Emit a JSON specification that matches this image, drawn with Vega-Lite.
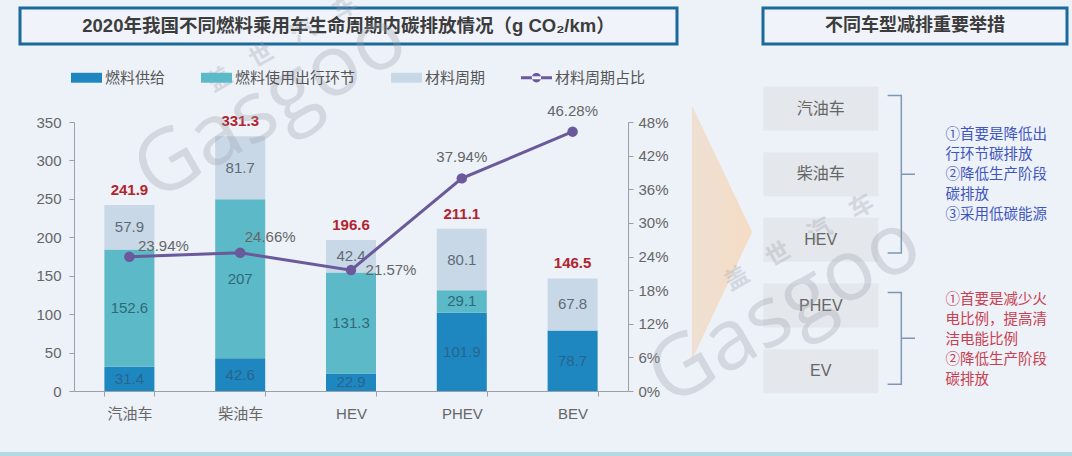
{
  "$schema": "https://vega.github.io/schema/vega-lite/v6.json",
  "width": 1072,
  "height": 456,
  "padding": 0,
  "autosize": {"type": "none"},
  "background": "#edf1f8",
  "config": {
    "font": "Liberation Sans, Noto Sans CJK SC",
    "view": {"stroke": null},
    "axis": {"grid": false, "domainColor": "#9aa0a8", "tickColor": "#9aa0a8", "labelColor": "#666666", "labelFontSize": 15, "title": null}
  },
  "datasets": {
    "segments": [
      {"car": "汽油车", "series": "燃料供给", "rank": 1, "value": 31.4},
      {"car": "汽油车", "series": "燃料使用出行环节", "rank": 2, "value": 152.6},
      {"car": "汽油车", "series": "材料周期", "rank": 3, "value": 57.9},
      {"car": "柴油车", "series": "燃料供给", "rank": 1, "value": 42.6},
      {"car": "柴油车", "series": "燃料使用出行环节", "rank": 2, "value": 207},
      {"car": "柴油车", "series": "材料周期", "rank": 3, "value": 81.7},
      {"car": "HEV", "series": "燃料供给", "rank": 1, "value": 22.9},
      {"car": "HEV", "series": "燃料使用出行环节", "rank": 2, "value": 131.3},
      {"car": "HEV", "series": "材料周期", "rank": 3, "value": 42.4},
      {"car": "PHEV", "series": "燃料供给", "rank": 1, "value": 101.9},
      {"car": "PHEV", "series": "燃料使用出行环节", "rank": 2, "value": 29.1},
      {"car": "PHEV", "series": "材料周期", "rank": 3, "value": 80.1},
      {"car": "BEV", "series": "燃料供给", "rank": 1, "value": 78.7},
      {"car": "BEV", "series": "材料周期", "rank": 3, "value": 67.8}
    ],
    "totals": [
      {"car": "汽油车", "total": 241.9, "share": 0.2394},
      {"car": "柴油车", "total": 331.3, "share": 0.2466},
      {"car": "HEV", "total": 196.6, "share": 0.2157},
      {"car": "PHEV", "total": 211.1, "share": 0.3794},
      {"car": "BEV", "total": 146.5, "share": 0.4628}
    ]
  },
  "resolve": {"scale": {"x": "independent", "y": "independent"}},
  "layer": [
    {
      "data": {"values": [{}]},
      "mark": {"type": "rect", "color": "#b3d9e4"},
      "encoding": {
        "x": {"datum": 0, "type": "quantitative", "scale": {"domain": [0, 1], "range": [0, 1072]}, "axis": null},
        "x2": {"datum": 1},
        "y": {"datum": 0, "type": "quantitative", "scale": {"domain": [0, 1], "range": [452, 456]}, "axis": null},
        "y2": {"datum": 1}
      }
    },
    {
      "data": {"values": [{"title": "2020年我国不同燃料乘用车生命周期内碳排放情况（g CO₂/km）"}]},
      "encoding": {
        "x": {"datum": 0, "type": "quantitative", "scale": {"domain": [0, 1], "range": [20, 677]}, "axis": null},
        "y": {"datum": 0, "type": "quantitative", "scale": {"domain": [0, 1], "range": [8, 44]}, "axis": null}
      },
      "layer": [
        {
          "mark": {"type": "rect", "fill": "#f0f3fa", "stroke": "#1a6a9c", "strokeWidth": 3},
          "encoding": {"x2": {"datum": 1}, "y2": {"datum": 1}}
        },
        {
          "mark": {"type": "text", "fontSize": 18.5, "fontWeight": "bold", "color": "#3c3c3c"},
          "encoding": {
            "x": {"datum": 0.5, "type": "quantitative"},
            "y": {"datum": 0.5, "type": "quantitative"},
            "text": {"field": "title"}
          }
        }
      ]
    },
    {
      "data": {"values": [{"title": "不同车型减排重要举措"}]},
      "encoding": {
        "x": {"datum": 0, "type": "quantitative", "scale": {"domain": [0, 1], "range": [763, 1067]}, "axis": null},
        "y": {"datum": 0, "type": "quantitative", "scale": {"domain": [0, 1], "range": [8, 44]}, "axis": null}
      },
      "layer": [
        {
          "mark": {"type": "rect", "fill": "#f0f3fa", "stroke": "#1a6a9c", "strokeWidth": 3},
          "encoding": {"x2": {"datum": 1}, "y2": {"datum": 1}}
        },
        {
          "mark": {"type": "text", "fontSize": 18, "fontWeight": "bold", "color": "#3c3c3c"},
          "encoding": {
            "x": {"datum": 0.5, "type": "quantitative"},
            "y": {"datum": 0.5, "type": "quantitative"},
            "text": {"field": "title"}
          }
        }
      ]
    },
    {
      "resolve": {"scale": {"y": "independent"}},
      "encoding": {
        "x": {
          "field": "car",
          "type": "nominal",
          "sort": ["汽油车", "柴油车", "HEV", "PHEV", "BEV"],
          "scale": {"range": [74, 628], "paddingInner": 0.55, "paddingOuter": 0.275},
          "axis": {"labelAngle": 0, "tickBand": "extent", "tickSize": 5, "labelPadding": 10, "offset": -65}
        }
      },
      "layer": [
        {
          "data": {"name": "segments"},
          "encoding": {
            "y": {
              "field": "value",
              "type": "quantitative",
              "stack": "zero",
              "scale": {"domain": [0, 350], "nice": false, "range": [391, 122]},
              "axis": {"values": [0, 50, 100, 150, 200, 250, 300, 350], "tickSize": 5, "labelPadding": 8, "offset": -74}
            }
          },
          "layer": [
            {
              "mark": {"type": "bar", "width": 50},
              "encoding": {
                "order": {"field": "rank"},
                "color": {
                  "field": "series",
                  "type": "nominal",
                  "scale": {
                    "domain": ["燃料供给", "燃料使用出行环节", "材料周期", "材料周期占比"],
                    "range": ["#1f87c0", "#5cb9c7", "#c9d8e6", "#6a5a9b"]
                  },
                  "legend": {
                    "orient": "none",
                    "legendX": 71,
                    "legendY": 62,
                    "direction": "horizontal",
                    "columns": 4,
                    "columnPadding": 35,
                    "title": null,
                    "symbolSize": 961,
                    "symbolStrokeWidth": 0,
                    "labelFontSize": 15,
                    "labelColor": "#555555",
                    "labelOffset": 3,
                    "encode": {
                      "symbols": {
                        "update": {
                          "shape": {"signal": "datum.value === '材料周期占比' ? 'M-1,-0.1H1V0.1H-1Z M0.3,0a0.3,0.3 0 1,0 -0.6,0a0.3,0.3 0 1,0 0.6,0Z' : 'M-1,-0.32H1V0.32H-1Z'"},
                          "fill": {"signal": "datum.value === '燃料供给' ? '#1f87c0' : datum.value === '燃料使用出行环节' ? '#5cb9c7' : datum.value === '材料周期' ? '#c9d8e6' : '#6a5a9b'"},
                          "opacity": {"value": 1}
                        }
                      }
                    }
                  }
                }
              }
            },
            {
              "mark": {"type": "text", "fontSize": 15},
              "encoding": {
                "y": {"field": "value", "type": "quantitative", "stack": "zero", "bandPosition": 0.5},
                "order": {"field": "rank"},
                "detail": {"field": "series"},
                "text": {"field": "value", "type": "quantitative"},
                "color": {
                  "condition": [
                    {"test": "datum.series === '燃料供给'", "value": "#27658f"},
                    {"test": "datum.series === '燃料使用出行环节'", "value": "#2f6a78"}
                  ],
                  "value": "#5d6b78"
                }
              }
            },
            {
              "data": {"name": "totals"},
              "mark": {"type": "text", "fontSize": 15, "fontWeight": "bold", "color": "#b2232e", "dy": -15},
              "encoding": {
                "y": {"field": "total", "type": "quantitative"},
                "text": {"field": "total", "type": "quantitative", "format": ".1f"}
              }
            }
          ]
        },
        {
          "data": {"name": "totals"},
          "encoding": {
            "y": {
              "field": "share",
              "type": "quantitative",
              "scale": {"domain": [0, 0.48], "nice": false, "range": [391, 122]},
              "axis": {
                "orient": "right",
                "values": [0, 0.06, 0.12, 0.18, 0.24, 0.3, 0.36, 0.42, 0.48],
                "format": ".0%",
                "tickSize": 5,
                "labelPadding": 5,
                "offset": -444
              }
            },
            "text": {"field": "share", "type": "quantitative", "format": ".2%"}
          },
          "layer": [
            {"mark": {"type": "line", "color": "#6a5a9b", "strokeWidth": 3}},
            {"mark": {"type": "point", "filled": true, "opacity": 1, "color": "#6a5a9b", "size": 110}},
            {
              "transform": [{"filter": "datum.car === '汽油车'"}],
              "mark": {"type": "text", "fontSize": 15, "color": "#666666", "dx": 34, "dy": -11}
            },
            {
              "transform": [{"filter": "datum.car === '柴油车'"}],
              "mark": {"type": "text", "fontSize": 15, "color": "#666666", "dx": 30, "dy": -16}
            },
            {
              "transform": [{"filter": "datum.car === 'HEV'"}],
              "mark": {"type": "text", "fontSize": 15, "color": "#666666", "dx": 40, "dy": 0}
            },
            {
              "transform": [{"filter": "datum.car === 'PHEV' || datum.car === 'BEV'"}],
              "mark": {"type": "text", "fontSize": 15, "color": "#666666", "dy": -21}
            }
          ]
        }
      ]
    },
    {
      "encoding": {
        "x": {"field": "col", "type": "quantitative", "scale": {"domain": [0, 10], "range": [763, 1067], "nice": false, "zero": false}, "axis": null},
        "y": {"field": "row", "type": "quantitative", "scale": {"domain": [0.2, 6.2], "range": [56, 450], "nice": false, "zero": false}, "axis": null}
      },
      "layer": [
        {
          "data": {"values": [{"col": -2.34, "row": 0.95, "row2": 4.83}, {"col": -0.36, "row": 2.88, "row2": 2.88}]},
          "mark": {
            "type": "area",
            "color": {
              "gradient": "linear", "x1": 0, "y1": 0, "x2": 1, "y2": 0,
              "stops": [{"offset": 0, "color": "#efe0d3"}, {"offset": 1, "color": "#f5dcc4"}]
            }
          },
          "encoding": {"y2": {"field": "row2"}}
        },
        {
          "data": {"values": [
            {"name": "汽油车", "col": 1.9, "row": 1},
            {"name": "柴油车", "col": 1.9, "row": 2},
            {"name": "HEV", "col": 1.9, "row": 3},
            {"name": "PHEV", "col": 1.9, "row": 4},
            {"name": "EV", "col": 1.9, "row": 5}
          ]},
          "layer": [
            {"mark": {"type": "rect", "width": 115, "height": 44, "color": "#e4e7eb"}},
            {"mark": {"type": "text", "fontSize": 16, "color": "#666666"}, "encoding": {"text": {"field": "name"}}}
          ]
        },
        {
          "data": {"values": [
            {"group": "a", "step": 1, "col": 4.1, "row": 0.8},
            {"group": "a", "step": 2, "col": 4.55, "row": 0.8},
            {"group": "a", "step": 3, "col": 4.55, "row": 2},
            {"group": "a", "step": 4, "col": 5, "row": 2},
            {"group": "a", "step": 5, "col": 4.55, "row": 2},
            {"group": "a", "step": 6, "col": 4.55, "row": 3.2},
            {"group": "a", "step": 7, "col": 4.1, "row": 3.2},
            {"group": "b", "step": 1, "col": 4.1, "row": 3.8},
            {"group": "b", "step": 2, "col": 4.55, "row": 3.8},
            {"group": "b", "step": 3, "col": 4.55, "row": 4.5},
            {"group": "b", "step": 4, "col": 5, "row": 4.5},
            {"group": "b", "step": 5, "col": 4.55, "row": 4.5},
            {"group": "b", "step": 6, "col": 4.55, "row": 5.2},
            {"group": "b", "step": 7, "col": 4.1, "row": 5.2}
          ]},
          "mark": {"type": "line", "color": "#7e97b5", "strokeWidth": 1.5},
          "encoding": {"detail": {"field": "group"}, "order": {"field": "step"}}
        },
        {
          "data": {"values": [
            {"col": 6, "row": 1.4, "lines": ["①首要是降低出", "行环节碳排放", "②降低生产阶段", "碳排放", "③采用低碳能源"]}
          ]},
          "mark": {"type": "text", "align": "left", "baseline": "middle", "fontSize": 14.5, "lineHeight": 20, "color": "#3f56c0"},
          "encoding": {"text": {"field": "lines"}}
        },
        {
          "data": {"values": [
            {"col": 6, "row": 3.92, "lines": ["①首要是减少火", "电比例，提高清", "洁电能比例", "②降低生产阶段", "碳排放"]}
          ]},
          "mark": {"type": "text", "align": "left", "baseline": "middle", "fontSize": 14.5, "lineHeight": 20, "color": "#c8404f"},
          "encoding": {"text": {"field": "lines"}}
        },
        {
          "data": {"values": [{"col": 0.72, "row": 4.07, "mark": "Gasgoo"}, {"col": -16.2, "row": 0.95, "mark": "Gasgoo"}]},
          "mark": {"type": "text", "fontSize": 85, "angle": -30, "font": "Open Sans", "color": "#9aa0aa", "opacity": 0.3},
          "encoding": {"text": {"field": "mark"}}
        },
        {
          "data": {"values": [{"col": 1.2, "row": 3.05, "mark": "盖　世　汽　车"}, {"col": -15.8, "row": 0.02, "mark": "盖　世　汽　车"}]},
          "mark": {"type": "text", "fontSize": 24, "fontWeight": "bold", "angle": -30, "color": "#9aa0aa", "opacity": 0.3},
          "encoding": {"text": {"field": "mark"}}
        }
      ]
    }
  ]
}
